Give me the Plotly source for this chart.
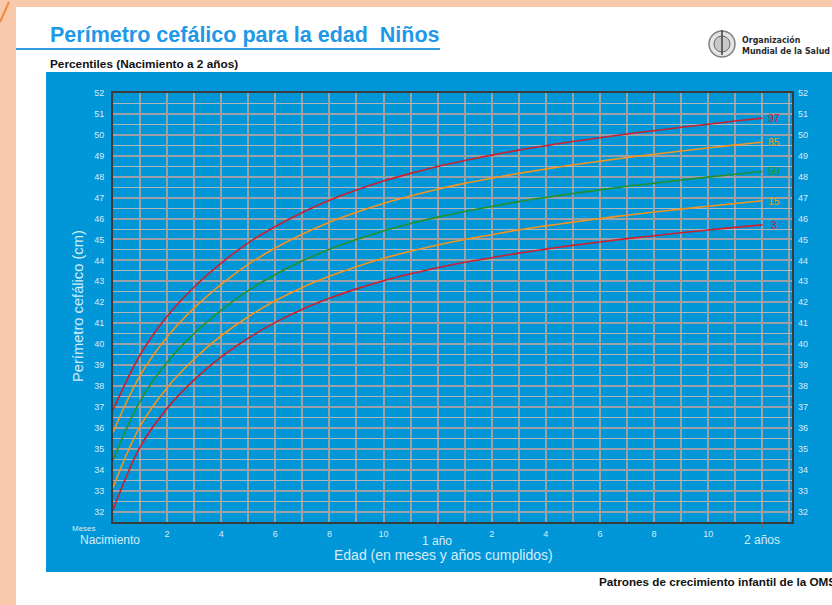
import plotly.graph_objects as go

W, H = 832, 605
ML, MR, MT, MB = 113, 40, 93, 83

months = list(range(0, 25))
p3 = [32.07, 35.08, 36.93, 38.29, 39.39, 40.28, 41.04, 41.67, 42.19, 42.64, 43.03, 43.36, 43.65,
      43.91, 44.13, 44.35, 44.54, 44.72, 44.88, 45.04, 45.18, 45.32, 45.45, 45.58, 45.70]
p15 = [33.14, 36.07, 37.92, 39.29, 40.40, 41.31, 42.07, 42.71, 43.24, 43.70, 44.10, 44.44, 44.74,
       45.00, 45.23, 45.46, 45.65, 45.83, 46.00, 46.16, 46.31, 46.45, 46.59, 46.72, 46.85]
p50 = [34.46, 37.28, 39.13, 40.51, 41.63, 42.56, 43.33, 43.98, 44.53, 45.00, 45.41, 45.76, 46.07,
       46.34, 46.58, 46.81, 47.01, 47.20, 47.37, 47.54, 47.69, 47.84, 47.98, 48.12, 48.25]
p85 = [35.78, 38.49, 40.34, 41.73, 42.86, 43.81, 44.59, 45.25, 45.82, 46.30, 46.72, 47.08, 47.40,
       47.68, 47.93, 48.16, 48.37, 48.57, 48.74, 48.92, 49.07, 49.23, 49.37, 49.52, 49.65]
p97 = [36.85, 39.48, 41.33, 42.73, 43.87, 44.84, 45.62, 46.29, 46.87, 47.36, 47.79, 48.16, 48.49,
       48.77, 49.03, 49.27, 49.48, 49.68, 49.86, 50.04, 50.20, 50.36, 50.51, 50.66, 50.80]

series_names = ["97", "85", "50", "15", "3"]
series_vals = [p97, p85, p50, p15, p3]

x_tickvals = [2, 4, 6, 8, 10, 14, 16, 18, 20, 22]
x_ticktext = ["2", "4", "6", "8", "10", "2", "4", "6", "8", "10"]

RED = "#CE1F2E"
ORANGE = "#F7941D"
GREEN = "#23902E"
colors = {"97": RED, "85": ORANGE, "50": GREEN, "15": ORANGE, "3": RED}

PEACH = "#F8C9AA"
BLUE = "#0096D8"
TICKC = "#D6ECF8"
GRID_X = "#9CA1A7"
GRID_Y = "#9CA1A7"
GRID_MINOR = "#B2B6BA"
FONT = "Liberation Sans, Arial, sans-serif"

PW = W - ML - MR
PH = H - MT - MB


def px(x):
    return (x - ML) / PW


def py(y):
    return (H - MB - y) / PH


fig = go.Figure()
for name, vals in zip(series_names, series_vals):
    fig.add_trace(go.Scatter(x=months, y=vals, mode="lines", name=name,
                             line=dict(color=colors[name], width=1.6, shape="spline", smoothing=1.0),
                             hoverinfo="skip", showlegend=False))
    fig.add_annotation(x=24.45, y=vals[-1], xref="x", yref="y", text=name, showarrow=False,
                       font=dict(family=FONT, size=10.5, color=colors[name]), xanchor="center", yanchor="middle")

fig.add_trace(go.Scatter(x=[0], y=[40], yaxis="y2", mode="markers", marker=dict(opacity=0),
                         hoverinfo="skip", showlegend=False))

shapes = []
shapes.append(dict(type="rect", xref="paper", yref="paper", x0=px(-5), x1=px(16), y0=py(-5), y1=py(620),
                   fillcolor=PEACH, line=dict(width=0), layer="below"))
shapes.append(dict(type="rect", xref="paper", yref="paper", x0=px(-5), x1=px(850), y0=py(-5), y1=py(7),
                   fillcolor=PEACH, line=dict(width=0), layer="below"))
shapes.append(dict(type="rect", xref="paper", yref="paper", x0=px(46), x1=px(850), y0=py(72), y1=py(572),
                   fillcolor=BLUE, line=dict(width=0), layer="below"))
shapes.append(dict(type="line", xref="paper", yref="paper", x0=px(16), x1=px(440), y0=py(49), y1=py(49),
                   line=dict(color="#2C9BE2", width=2), layer="below"))
shapes.append(dict(type="line", xref="paper", yref="paper", x0=px(0), x1=px(9), y0=py(22), y1=py(2),
                   line=dict(color="#F08A3C", width=2), layer="below"))
cx, cy, r = 722, 44, 13
shapes.append(dict(type="circle", xref="paper", yref="paper", x0=px(cx - r), x1=px(cx + r), y0=py(cy - r), y1=py(cy + r),
                   fillcolor="#E4E4E4", line=dict(color="#808080", width=1.5), layer="below"))
shapes.append(dict(type="circle", xref="paper", yref="paper", x0=px(cx - 8), x1=px(cx + 8), y0=py(cy - 8), y1=py(cy + 8),
                   fillcolor="#C8C8C8", line=dict(color="#6A6A6A", width=1), layer="below"))
shapes.append(dict(type="line", xref="paper", yref="paper", x0=px(cx), x1=px(cx), y0=py(cy - 14), y1=py(cy + 11),
                   line=dict(color="#404040", width=1.5), layer="below"))
for m in (12, 24):
    shapes.append(dict(type="line", xref="x", yref="paper", x0=m, x1=m, y0=0, y1=1,
                       line=dict(color="#666666", width=1.6), layer="below"))
    shapes.append(dict(type="line", xref="x", yref="paper", x0=m, x1=m, y0=0, y1=py(H - MB + 5),
                       line=dict(color="#666666", width=1.2), layer="above"))
fig.update_layout(shapes=shapes)

ann = [
    dict(text="<b>Perímetro cefálico para la edad  Niños</b>", x=px(48), y=py(35), xanchor="left", yanchor="middle",
         font=dict(family=FONT, size=21.5, color="#1E98E8")),
    dict(text="<b>Percentiles (Nacimiento a 2 años)</b>", x=px(48), y=py(64), xanchor="left", yanchor="middle",
         font=dict(family=FONT, size=11.8, color="#111111")),
    dict(text="<b>Organización<br>Mundial de la Salud</b>", x=px(740), y=py(45), xanchor="left", yanchor="middle",
         align="left", font=dict(family="DejaVu Sans Condensed, DejaVu Sans, sans-serif",
                                 size=8.8, color="#2A2A2A")),
    dict(text="<b>Patrones de crecimiento infantil de la OMS</b>", x=px(597), y=py(581), xanchor="left", yanchor="middle",
         font=dict(family=FONT, size=11.7, color="#111111")),
    dict(text="Meses", x=px(84), y=py(528), xanchor="center", yanchor="middle",
         font=dict(family=FONT, size=8, color=TICKC)),
    dict(text="Nacimiento", x=px(110), y=py(540), xanchor="center", yanchor="middle",
         font=dict(family=FONT, size=12, color=TICKC)),
    dict(text="1 año", x=px(437), y=py(541), xanchor="center", yanchor="middle",
         font=dict(family=FONT, size=12, color=TICKC)),
    dict(text="2 años", x=px(762), y=py(540), xanchor="center", yanchor="middle",
         font=dict(family=FONT, size=12, color=TICKC)),
    dict(text="Edad (en meses y años cumplidos)", x=px(443), y=py(555), xanchor="center", yanchor="middle",
         font=dict(family=FONT, size=14, color=TICKC)),
    dict(text="Perímetro cefálico (cm)", x=px(78), y=py(306), xanchor="center", yanchor="middle", textangle=-90,
         font=dict(family=FONT, size=14.7, color=TICKC)),
]
for a in ann:
    a.update(xref="paper", yref="paper", showarrow=False)
    fig.add_annotation(**a)

fig.update_layout(
    width=W, height=H,
    margin=dict(l=ML, r=MR, t=MT, b=MB, pad=0),
    paper_bgcolor="white",
    plot_bgcolor="white",
    font=dict(family=FONT),
    xaxis=dict(range=[0, 25.1], tickvals=x_tickvals, ticktext=x_ticktext, showgrid=True,
               gridcolor=GRID_X, gridwidth=1.5, zeroline=False, showline=True, linecolor="#3A3A3A",
               linewidth=2, mirror=True, ticks="", tickfont=dict(size=9, color=TICKC),
               ticklabelstandoff=2,
               minor=dict(dtick=1, tick0=0, showgrid=True, gridcolor=GRID_X, gridwidth=1.5)),
    yaxis=dict(range=[31.5, 52], tick0=32, dtick=1, showgrid=True, gridcolor=GRID_Y, gridwidth=2,
               zeroline=False, showline=True, linecolor="#3A3A3A", linewidth=2, mirror=True,
               ticks="", tickfont=dict(size=9, color=TICKC), ticklabelstandoff=5,
               minor=dict(dtick=0.5, tick0=31.5, showgrid=True, gridcolor=GRID_MINOR, gridwidth=1)),
    yaxis2=dict(range=[31.5, 52], tick0=32, dtick=1, overlaying="y", side="right", matches="y",
                showgrid=False, zeroline=False, ticks="", tickfont=dict(size=9, color=TICKC),
                ticklabelstandoff=5),
)

fig.write_html("out.html", config={"displayModeBar": False},
               post_script="document.body.style.margin='0';document.body.style.overflow='hidden';"
                           "document.body.style.background='" + PEACH + "';")
